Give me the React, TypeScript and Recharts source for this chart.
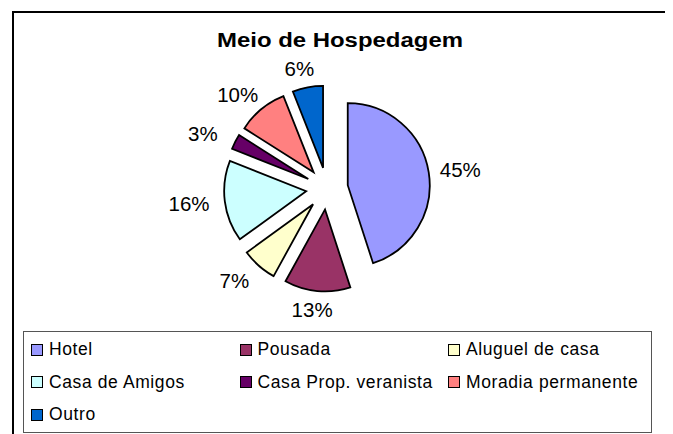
import { PieChart, Pie, Cell, Legend, Sector } from "recharts";

const categories = [
  "Hotel",
  "Pousada",
  "Aluguel de casa",
  "Casa de Amigos",
  "Casa Prop. veranista",
  "Moradia permanente",
  "Outro",
];
const shares = [45, 13, 7, 16, 3, 10, 6];
const colors = ["#9999FF", "#993366", "#FFFFCC", "#CCFFFF", "#660066", "#FF8080", "#0066CC"];

const data = categories.map((name, i) => ({ name, value: shares[i] }));

const RAD = Math.PI / 180;
const EXPLODE = 21;
const FONT = "'Liberation Sans', Arial, sans-serif";

// every slice is pushed out along its bisector
function ExplodedSlice(props: any) {
  const { cx, cy, midAngle, innerRadius, outerRadius, startAngle, endAngle, fill } = props;
  const dx = EXPLODE * Math.cos(-midAngle * RAD);
  const dy = EXPLODE * Math.sin(-midAngle * RAD);
  return (
    <Sector
      cx={cx + dx}
      cy={cy + dy}
      innerRadius={innerRadius}
      outerRadius={outerRadius}
      startAngle={startAngle}
      endAngle={endAngle}
      fill={fill}
      stroke="#000"
      strokeWidth={1.8}
    />
  );
}

function renderLabel(props: any) {
  const { cx, cy, midAngle, value } = props;
  const x = cx + 137 * Math.cos(-midAngle * RAD) - 2;
  const y = cy + 122 * Math.sin(-midAngle * RAD);
  return (
    <text x={x} y={y} textAnchor="middle" dominantBaseline="central" fontSize={20.5} fontFamily={FONT} fill="#000">
      {`${value}%`}
    </text>
  );
}

function LegendBox({ payload }: any) {
  // keep the data order (recharts sorts legend items by name)
  const items = [...(payload || [])].sort(
    (a: any, b: any) => categories.indexOf(a.value) - categories.indexOf(b.value)
  );
  return (
    <div style={{ position: "relative", width: 629, height: 102, boxSizing: "border-box", border: "1px solid #555", background: "#fff" }}>
      {items.map((it: any, i: number) => (
        <div
          key={it.value}
          style={{
            position: "absolute",
            left: 7 + (i % 3) * 208.5,
            top: 6.5 + Math.floor(i / 3) * 32.5,
            height: 22,
            display: "flex",
            alignItems: "center",
            whiteSpace: "nowrap",
            fontFamily: FONT,
            fontSize: 17.5,
            letterSpacing: 0.6,
            color: "#000",
          }}
        >
          <span style={{ width: 10, height: 10, flex: "none", border: "1px solid #000", background: it.color, display: "inline-block", marginRight: 6 }} />
          {it.value}
        </div>
      ))}
    </div>
  );
}

export default function App() {
  return (
    <div style={{ position: "relative", width: 657, height: 426, overflow: "hidden", background: "#fff" }}>
      <div
        style={{
          position: "absolute",
          left: 4,
          top: 3,
          width: 655,
          height: 500,
          boxSizing: "border-box",
          border: "2px solid #000",
        }}
      />
      <svg width={657} height={60} style={{ position: "absolute", left: 0, top: 0 }}>
        <text
          x={332}
          y={39}
          textAnchor="middle"
          fontFamily={FONT}
          fontWeight="bold"
          fontSize={20}
          textLength={246}
          lengthAdjust="spacingAndGlyphs"
        >
          Meio de Hospedagem
        </text>
      </svg>
      <div style={{ position: "absolute", left: 0, top: 0 }}>
        <PieChart width={657} height={426} margin={{ top: 0, right: 0, bottom: 0, left: 0 }}>
          <Pie
            data={data}
            dataKey="value"
            nameKey="name"
            cx={319}
            cy={180.5}
            outerRadius={82}
            startAngle={90}
            endAngle={-270}
            shape={ExplodedSlice}
            label={renderLabel}
            labelLine={false}
            isAnimationActive={false}
          >
            {data.map((d, i) => (
              <Cell key={d.name} fill={colors[i]} />
            ))}
          </Pie>
          <Legend content={<LegendBox />} wrapperStyle={{ position: "absolute", left: 15, top: 323, width: 629, height: 102 }} />
        </PieChart>
      </div>
    </div>
  );
}
